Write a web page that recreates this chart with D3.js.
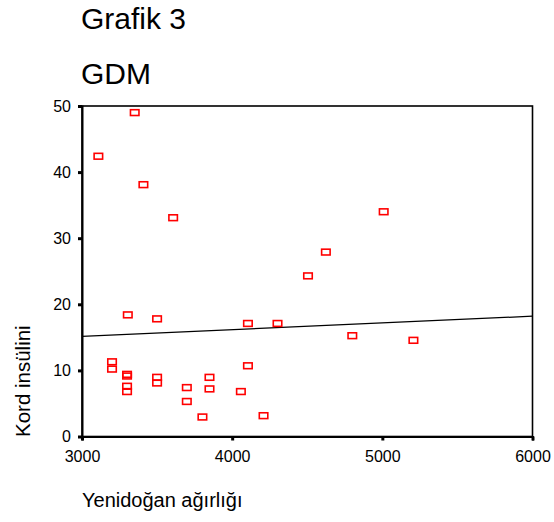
<!DOCTYPE html>
<html>
<head>
<meta charset="utf-8">
<script src="https://cdn.jsdelivr.net/npm/d3@7"></script>
<style>
  html, body { margin: 0; padding: 0; background: #fff; }
  text { font-family: "Liberation Sans", Arial, Helvetica, sans-serif; fill: #000; }
</style>
</head>
<body>
<svg id="chart" width="554" height="522"></svg>
<script>
// ---- data ----
const weights = [3305, 3500, 4105, 4302, 3200, 3200, 3300, 3300, 3300, 3300,
                 3500, 3500, 3698, 3698, 3849, 3849, 3802, 4058, 4105, 4209,
                 4505, 3351, 3109, 3409, 3607, 5009, 4624, 4800, 5207];
const insulin = [18.4, 17.8, 17.1, 17.1, 11.3, 10.2, 9.4, 9.15, 7.6, 6.8,
                 8.95, 8.1, 7.4, 5.3, 8.95, 7.2, 2.95, 6.8, 10.7, 3.15,
                 24.3, 49.0, 42.4, 38.1, 33.1, 34.0, 27.9, 15.25, 14.55];
const fitX = [3000, 6000];
const fitY = [15.15, 18.2];
const xTicks = [3000, 4000, 5000, 6000];
const yTicks = [0, 10, 20, 30, 40, 50];
const titleLines = ["Grafik 3", "GDM"];
const xTitle = "Yenidoğan ağırlığı";
const yTitle = "Kord insülini";

// ---- layout ----
const svg = d3.select("#chart");
const pL = 82, pR = 532.5, pT = 106, pB = 436.5;
const x = d3.scaleLinear().domain([3000, 6000]).range([pL, pR]);
const y = d3.scaleLinear().domain([0, 50]).range([pB, pT]);

// titles
svg.append("text").attr("x", 81).attr("y", 28.5).attr("font-size", 30).text(titleLines[0]);
svg.append("text").attr("x", 81).attr("y", 83.5).attr("font-size", 30).text(titleLines[1]);

// frame
svg.append("rect")
  .attr("x", pL).attr("y", pT)
  .attr("width", pR - pL).attr("height", pB - pT)
  .attr("fill", "none").attr("stroke", "#000").attr("stroke-width", 1.6);

// axes
const xAxis = d3.axisBottom(x).tickValues(xTicks).tickSize(4).tickPadding(10).tickFormat(d3.format("d"));
const yAxis = d3.axisLeft(y).tickValues(yTicks).tickSize(4).tickPadding(7).tickFormat(d3.format("d"));

const gx = svg.append("g").attr("transform", `translate(0,${pB})`).call(xAxis);
const gy = svg.append("g").attr("transform", `translate(${pL},0)`).call(yAxis);
[gx, gy].forEach(g => {
  g.select(".domain").attr("stroke", "#000").attr("stroke-width", 2);
  g.selectAll(".tick line").attr("stroke", "#000").attr("stroke-width", 3);
  g.selectAll(".tick text").attr("font-size", 16).attr("fill", "#000")
    .attr("font-family", "Liberation Sans, Arial, sans-serif");
});

// fit line
svg.append("line")
  .attr("x1", x(fitX[0])).attr("y1", y(fitY[0]))
  .attr("x2", x(fitX[1])).attr("y2", y(fitY[1]))
  .attr("stroke", "#000").attr("stroke-width", 1.3);

// points
svg.append("g").selectAll("rect")
  .data(weights.map((w, i) => [w, insulin[i]]))
  .join("rect")
  .attr("x", d => x(d[0]) - 4.25)
  .attr("y", d => y(d[1]) - 2.9)
  .attr("width", 8.5).attr("height", 5.8)
  .attr("fill", "none").attr("stroke", "#f00").attr("stroke-width", 1.6);

// axis titles
svg.append("text").attr("x", 82).attr("y", 507).attr("font-size", 20).text(xTitle);
svg.append("text")
  .attr("transform", "translate(30,437) rotate(-90)")
  .attr("font-size", 20.5).text(yTitle);
</script>
</body>
</html>
